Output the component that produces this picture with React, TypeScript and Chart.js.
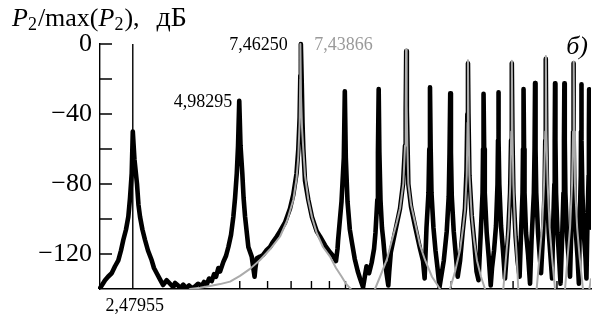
import React, { useEffect, useRef } from 'react';
import { Chart, registerables } from 'chart.js';
Chart.register(...registerables);

// Black spectrum (frequency, dB)
const blackFreq = [
  2.0, 2.067, 2.108, 2.159, 2.207, 2.255, 2.295, 2.33, 2.372, 2.408, 2.435, 2.462, 2.4796, 2.507, 2.549, 2.574, 2.6, 2.641, 2.687, 2.739, 2.807, 2.849, 2.901, 2.964,
  3.023, 3.097, 3.165, 3.234, 3.271, 3.336, 3.38, 3.453, 3.515, 3.585, 3.656, 3.729, 3.803, 3.897, 3.956, 4.027, 4.088, 4.161, 4.224, 4.28, 4.345, 4.394,
  4.49, 4.57, 4.64, 4.722, 4.794, 4.848, 4.903, 4.944, 4.98295, 5.024, 5.084, 5.127, 5.177, 5.289, 5.408, 5.455, 5.509, 5.54, 5.589,
  5.711, 5.825, 5.968, 6.098, 6.219, 6.372, 6.511, 6.728, 6.951, 7.103, 7.254, 7.34, 7.403, 7.437, 7.4625, 7.506, 7.544, 7.585, 7.668, 7.836,
  8.029, 8.28, 8.461, 8.743, 9.035, 9.214, 9.397, 9.49, 9.527, 9.742, 9.89, 9.955, 10.02, 10.133, 10.287, 10.422, 10.629, 10.84, 10.999, 11.22,
  11.37, 11.48, 11.67, 11.87, 12.06, 12.17, 12.32, 12.37, 12.43, 12.487, 12.578, 12.7, 12.81, 12.955, 13.083, 13.238, 13.32, 13.46, 13.656, 13.99,
  14.297, 14.58, 14.774, 14.84, 14.89, 14.95, 15.02, 15.096, 15.367, 15.775, 16.301, 16.625, 16.8, 17.005, 17.23, 17.32, 17.4, 17.48, 17.57, 17.8,
  18.04, 18.28, 18.52, 18.76, 19.04, 19.42, 19.675, 19.78, 19.87, 19.96, 20.07, 20.33, 20.6, 20.87, 21.19, 21.54, 21.89, 22.11, 22.23, 22.32,
  22.39, 22.53, 22.876, 23.23, 23.61, 23.92, 24.27, 24.56, 24.64, 24.72, 24.82, 24.92, 25.24, 25.58, 25.91, 26.13, 26.48, 26.82, 27.09, 27.18,
  27.23, 27.32, 27.41, 27.72, 28.08, 28.45, 28.73, 29.02, 29.42, 29.61, 29.75, 29.885, 30.06, 30.5, 30.9, 31.31, 31.61, 31.92, 32.02, 32.13,
  32.24, 32.34, 32.66, 33.09, 33.53, 33.86, 34.38, 34.54, 34.65, 34.76, 34.92, 35.34, 35.69, 36.04, 36.52, 36.88, 37.05, 37.17, 37.29, 37.49,
  37.91, 38.36, 38.74, 39.06, 39.32, 39.42, 39.5, 39.6, 39.76, 40.15, 40.55, 40.95, 41.36, 41.74, 41.88, 41.99, 42.1, 42.27, 42.74, 43.16,
  43.58, 44.03, 44.32, 44.47, 44.55, 44.67, 44.84, 45.35, 45.79, 46.18, 46.52, 46.77, 46.83, 46.92, 47.04, 47.26, 47.76, 48.23, 48.53, 48.88,
  49.23, 49.32, 49.4, 49.51, 49.71, 50.0,
];
const blackDb = [
  -139.6, -135, -133, -131, -127, -123.6, -118, -112, -106, -98.7, -88, -74, -50, -66, -80, -92, -98.7, -106, -112, -118, -123.6, -128, -131, -134.5,
  -137.7, -135, -137, -139, -136.5, -138, -139.6, -137.5, -139.5, -138, -139.5, -138.5, -137, -138.2, -136, -137.5, -134, -135.5, -131.5, -133, -128, -130,
  -124.5, -121, -116, -109, -98.7, -88, -74, -58, -32.5, -58, -74, -88, -98.7, -116, -121.5, -127, -133, -128, -122.5,
  -121.5, -120.5, -117.7, -116, -113, -110, -107, -102, -94, -86, -74, -60, -42, -18, 0, -22, -45, -60, -78, -89,
  -99, -107, -110, -115, -119, -121, -124, -117, -112, -90, -65, -27, -65, -90, -106, -113, -123, -130, -134, -139,
  -132, -127, -131, -125, -117, -108, -89, -62, -25.7, -62, -89, -105, -112, -123, -131, -138, -130, -119, -113, -103,
  -94, -80, -58, -38, -4, -38, -58, -80, -93, -104, -117, -124, -134, -105, -85, -60, -24.8, -60, -85, -105,
  -118, -128, -139, -132, -124, -107, -87, -62, -28.2, -62, -87, -107, -120, -133, -124, -108, -94, -72, -40, -11,
  -40, -75, -98, -112, -130, -135, -108, -85, -60, -28.4, -60, -85, -108, -122, -138, -128, -118, -104, -80, -55,
  -27.6, -55, -80, -104, -118, -134, -122, -110, -85, -55, -11, -55, -85, -110, -124, -133, -108, -85, -60, -25.7,
  -60, -85, -108, -120, -137, -112, -85, -60, -22.3, -60, -85, -108, -120, -131, -108, -85, -55, -8.5, -55, -85,
  -108, -122, -134, -100, -80, -55, -22.5, -55, -85, -108, -122, -137, -112, -85, -55, -22.5, -55, -85, -110, -122,
  -133, -100, -80, -50, -11, -50, -85, -110, -122, -137, -95, -75, -50, -23, -55, -85, -110, -122, -134, -100,
  -75, -50, -25.9, -55, -85, -105,
];

// Gray spectrum (frequency, dB)
const grayFreq = [
  3.4, 3.492, 3.609, 3.854, 4.115, 4.394, 4.691, 5.008, 5.348, 5.711, 6.098, 6.511, 6.817, 7.103, 7.254, 7.34, 7.403, 7.432, 7.43866,
  7.47, 7.521, 7.585, 7.668, 7.836, 8.029, 8.28, 8.629, 9.035, 9.397, 9.755, 10.034, 10.301, 10.506, 11.3, 11.9,
  12.136, 12.54, 13.103, 13.522, 13.99, 14.297, 14.61, 14.774, 14.84, 14.877, 14.93, 15.0, 15.096, 15.367, 15.775, 16.301, 16.844, 17.63, 18.583, 19.2, 19.55,
  19.844, 20.51, 21.19, 21.61, 21.89, 22.14, 22.26, 22.316, 22.4, 22.53, 22.876, 23.23, 23.69, 24.31, 24.96, 26.5,
  28.14, 28.64, 29.12, 29.46, 29.64, 29.755, 29.87, 30.06, 30.38, 30.74, 31.04, 33.0,
  35.01, 35.66, 36.27, 36.75, 37.05, 37.19, 37.31, 37.63, 38.13, 38.73, 39.5, 41.0,
  42.18, 42.88, 43.58, 44.16, 44.46, 44.63, 44.81, 45.0, 45.66, 46.41, 47.43, 48.5, 49.3, 50.0,
];
const grayDb = [
  -150, -143, -140, -139.3, -138.3, -137.2, -135.8, -132.5, -128.5, -123.4, -117.3, -110, -101, -89, -77, -64, -45, -20, 0,
  -30, -48, -60.6, -75, -89, -99, -108, -116, -121.5, -128, -133, -137, -139.5, -142, -165, -160,
  -140, -133, -123.4, -113, -102, -94, -79.6, -58, -35, -3, -35, -58, -79.6, -92, -102, -115, -123.4, -133, -140, -146, -150,
  -140, -130, -117.7, -105, -95, -75, -45, -9.3, -45, -75, -98.7, -112, -124, -133, -140, -165,
  -140, -122, -105, -80, -50, -9.5, -50, -80, -105, -122, -140, -165,
  -140, -122, -105, -80, -50, -6.8, -50, -80, -105, -122, -140, -165,
  -140, -122, -105, -80, -50, -10, -50, -80, -105, -122, -140, -155, -142, -134,
];

const yTickLabels = [0, -40, -80, -120];
const yMinorTicks = [0, -20, -40, -60, -80, -100, -120];
const xTicks = [5, 6, 7, 8, 9, 10, 20, 30, 40];
const markerFreq = 2.47955;
const markerLabel = '2,47955';
const peakBlack1 = { text: '4,98295', f: 4.98295, db: -32.5 };
const peakBlack2 = { text: '7,46250', f: 7.4625, db: 0 };
const peakGray = { text: '7,43866', f: 7.43866, db: 0 };
const panelLabel = 'б)';

const SERIF = '"Liberation Serif", "DejaVu Serif", serif';
const GRAY_LINE = '#ababab';
const GRAY_TEXT = '#9a9a9a';

const decor = {
  id: 'decor',
  beforeDatasetsDraw(chart: any) {
    const { ctx, chartArea: a, scales } = chart;
    const x = scales.x, y = scales.y;
    ctx.save();
    ctx.strokeStyle = '#000';
    ctx.lineWidth = 1.4;
    ctx.beginPath();
    for (const v of yMinorTicks) {
      const py = y.getPixelForValue(v);
      ctx.moveTo(a.left, py);
      ctx.lineTo(a.left + 12, py);
    }
    for (const v of xTicks) {
      const px = x.getPixelForValue(v);
      ctx.moveTo(px, a.bottom);
      ctx.lineTo(px, a.bottom - 8);
    }
    const mx = x.getPixelForValue(markerFreq);
    ctx.moveTo(mx, y.getPixelForValue(0));
    ctx.lineTo(mx, a.bottom);
    ctx.stroke();
    ctx.restore();
  },
  afterDraw(chart: any) {
    const { ctx, chartArea: a, scales } = chart;
    const x = scales.x, y = scales.y;
    ctx.save();
    ctx.textBaseline = 'alphabetic';
    ctx.fillStyle = '#000';

    // Title
    let cx = 12;
    const base = 26;
    const put = (t: string, font: string, dy = 0) => {
      ctx.font = font;
      ctx.fillText(t, cx, base + dy);
      cx += ctx.measureText(t).width;
    };
    const big = `26px ${SERIF}`;
    const bigI = `italic 26px ${SERIF}`;
    const sub = `18px ${SERIF}`;
    put('P', bigI);
    put('2', sub, 4);
    cx += 1;
    put('/max(', big);
    put('P', bigI);
    put('2', sub, 4);
    cx += 1;
    put('),', big);
    cx += 17;
    put('дБ', `28px ${SERIF}`);

    // Panel label
    ctx.font = `italic 26px ${SERIF}`;
    ctx.textAlign = 'right';
    ctx.fillText(panelLabel, a.right - 3, 54);

    // Peak labels
    ctx.font = `18px ${SERIF}`;
    ctx.textAlign = 'right';
    ctx.fillText(peakBlack1.text, x.getPixelForValue(peakBlack1.f) - 7, y.getPixelForValue(peakBlack1.db) + 6);
    ctx.fillText(peakBlack2.text, x.getPixelForValue(peakBlack2.f) - 13, y.getPixelForValue(peakBlack2.db) + 6);
    ctx.textAlign = 'left';
    ctx.fillStyle = GRAY_TEXT;
    ctx.fillText(peakGray.text, x.getPixelForValue(peakGray.f) + 14, y.getPixelForValue(peakGray.db) + 6);
    ctx.fillStyle = '#000';
    ctx.textAlign = 'center';
    ctx.fillText(markerLabel, x.getPixelForValue(markerFreq) + 2, a.bottom + 22);
    ctx.restore();
  },
};

export default function App() {
  const ref = useRef<HTMLCanvasElement | null>(null);
  useEffect(() => {
    document.body.style.margin = '0';
    const canvas = ref.current;
    if (!canvas) return;
    const clip = { left: 2, top: 4, right: 0, bottom: 0 };
    const chart = new Chart(canvas, {
      type: 'line',
      data: {
        datasets: [
          {
            label: 'gray',
            data: grayFreq.map((f, i) => ({ x: f, y: grayDb[i] })),
            borderColor: GRAY_LINE,
            borderWidth: 2,
            pointRadius: 0,
            tension: 0,
            order: 0,
            borderJoinStyle: 'round',
            clip,
          } as any,
          {
            label: 'black',
            data: blackFreq.map((f, i) => ({ x: f, y: blackDb[i] })),
            borderColor: '#000',
            borderWidth: 4.6,
            pointRadius: 0,
            tension: 0,
            order: 1,
            borderJoinStyle: 'round',
            borderCapStyle: 'round',
            clip,
          } as any,
        ],
      },
      options: {
        responsive: false,
        animation: false,
        devicePixelRatio: 1,
        layout: { padding: { left: 0, right: 8, top: 44, bottom: 0 } },
        plugins: { legend: { display: false }, tooltip: { enabled: false } },
        scales: {
          x: {
            type: 'logarithmic',
            min: 2,
            max: 50,
            ticks: { display: false },
            grid: { display: false, drawTicks: false },
            border: { display: true, color: '#000', width: 1.4 },
            afterFit(s: any) { s.height = 34; },
          },
          y: {
            min: -140,
            max: 0,
            afterBuildTicks(s: any) { s.ticks = yTickLabels.map((v) => ({ value: v })); },
            ticks: {
              padding: 8,
              color: '#000',
              font: { family: SERIF, size: 26 },
              callback: (v: any) => (Number(v) === 0 ? '0' : '\u2212' + Math.abs(Number(v))),
            },
            grid: { display: false, drawTicks: false },
            border: { display: true, color: '#000', width: 1.4 },
            afterFit(s: any) { s.width = 100; },
          },
        },
      } as any,
      plugins: [decor],
    });
    return () => chart.destroy();
  }, []);
  return <canvas ref={ref} width={599} height={323} style={{ display: 'block' }} />;
}
